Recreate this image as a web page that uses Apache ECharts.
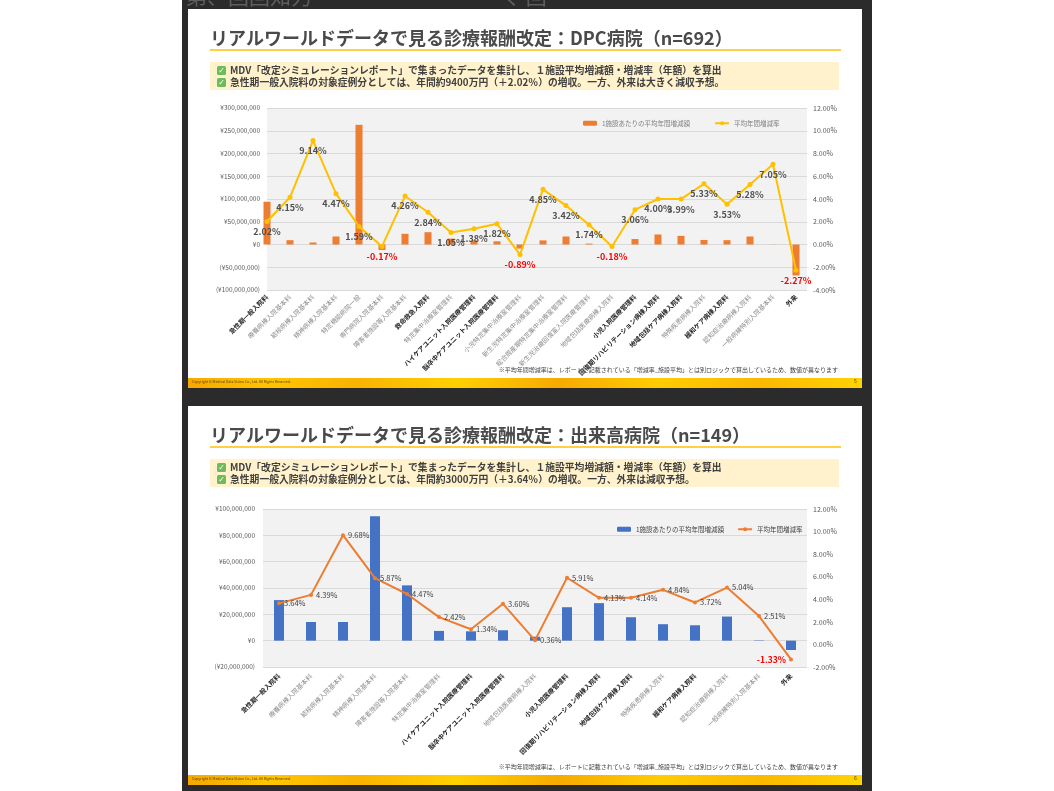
<!DOCTYPE html>
<html>
<head>
<meta charset="utf-8">
<title>診療報酬改定</title>
<script src="https://cdn.jsdelivr.net/npm/echarts@6/dist/echarts.min.js"></script>
<style>
html,body{margin:0;padding:0;background:#fff;}
#main{width:1054px;height:791px;}
</style>
</head>
<body>
<div id="main"></div>
<script>
// DPC病院 (上のスライド)
var dpcCats = ['急性期一般入院料','療養病棟入院基本料','結核病棟入院基本料','精神病棟入院基本料','特定機能病院一般','専門病院入院基本料','障害者施設等入院基本料','救命救急入院料','特定集中治療室管理料','ハイケアユニット入院医療管理料','脳卒中ケアユニット入院医療管理料','小児特定集中治療室管理料','新生児特定集中治療室管理料','総合周産期特定集中治療室管理料','新生児治療回復室入院医療管理料','地域包括医療病棟入院料','小児入院医療管理料','回復期リハビリテーション病棟入院料','地域包括ケア病棟入院料','特殊疾患病棟入院料','緩和ケア病棟入院料','認知症治療病棟入院料','一般病棟特別入院基本料','外来'];
var dpcBold = ['急性期一般入院料','救命救急入院料','ハイケアユニット入院医療管理料','脳卒中ケアユニット入院医療管理料','小児入院医療管理料','回復期リハビリテーション病棟入院料','地域包括ケア病棟入院料','緩和ケア病棟入院料','外来'];
var dpcAmount = [94000000, 9500000, 4400000, 17600000, 263000000, -12000000, 23500000, 27000000, 13000000, 9000000, 7000000, -9000000, 9000000, 17600000, 2000000, 500000, 12000000, 22000000, 19000000, 10000000, 9500000, 17600000, 300000, -68000000];
var dpcRate = [2.02, 4.15, 9.14, 4.47, 1.59, -0.17, 4.26, 2.84, 1.05, 1.38, 1.82, -0.89, 4.85, 3.42, 1.74, -0.18, 3.06, 4.00, 3.99, 5.33, 3.53, 5.28, 7.05, -2.27];

// 出来高病院 (下のスライド)
var ffsCats = ['急性期一般入院料','療養病棟入院基本料','結核病棟入院基本料','精神病棟入院基本料','障害者施設等入院基本料','特定集中治療室管理料','ハイケアユニット入院医療管理料','脳卒中ケアユニット入院医療管理料','地域包括医療病棟入院料','小児入院医療管理料','回復期リハビリテーション病棟入院料','地域包括ケア病棟入院料','特殊疾患病棟入院料','緩和ケア病棟入院料','認知症治療病棟入院料','一般病棟特別入院基本料','外来'];
var ffsBold = ['急性期一般入院料','ハイケアユニット入院医療管理料','脳卒中ケアユニット入院医療管理料','小児入院医療管理料','回復期リハビリテーション病棟入院料','地域包括ケア病棟入院料','緩和ケア病棟入院料','外来'];
var ffsAmount = [30800000, 14200000, 14200000, 94400000, 42000000, 7400000, 7100000, 7900000, 3000000, 25400000, 28500000, 17800000, 12500000, 11700000, 18300000, 300000, -7100000];
var ffsRate = [3.64, 4.39, 9.68, 5.87, 4.47, 2.42, 1.34, 3.60, 0.36, 5.91, 4.13, 4.14, 4.84, 3.72, 5.04, 2.51, -1.33];

var slides = [
  {y: 9, page: '5',
   title: 'リアルワールドデータで見る診療報酬改定：DPC病院（n=692）',
   line1: 'MDV「改定シミュレーションレポート」で集まったデータを集計し、１施設平均増減額・増減率（年額）を算出',
   line2: '急性期一般入院料の対象症例分としては、年間約9400万円（＋2.02％）の増収。一方、外来は大きく減収予想。'},
  {y: 406, page: '6',
   title: 'リアルワールドデータで見る診療報酬改定：出来高病院（n=149）',
   line1: 'MDV「改定シミュレーションレポート」で集まったデータを集計し、１施設平均増減額・増減率（年額）を算出',
   line2: '急性期一般入院料の対象症例分としては、年間約3000万円（＋3.64％）の増収。一方、外来は減収予想。'}
];
var note = '※平均年間増減率は、レポートに記載されている「増減率_施設平均」とは別ロジックで算出しているため、数値が異なります';

var FONT = "'Noto Sans CJK JP', 'Noto Sans', sans-serif";
var BAR_NAME = '1施設あたりの平均年間増減額';
var LINE_NAME = '平均年間増減率';

function yen(v) {
  var s = '¥' + Math.abs(v).toLocaleString('en-US');
  return v < 0 ? '(' + s + ')' : s;
}
function pct(v) { return v.toFixed(2) + '%'; }
function catLabel(name, boldList) {
  return (boldList.indexOf(name) >= 0 ? '{b|' : '{g|') + name + '}';
}
var richCats = {
  b: {fontSize: 6.5, fontWeight: 'bold', color: '#262626', fontFamily: FONT},
  g: {fontSize: 6.5, color: '#8c8c8c', fontFamily: FONT}
};

// slide decoration
var graphics = [
  {type: 'rect', z: -20, shape: {x: 182, y: 0, width: 690, height: 791}, style: {fill: '#2b2b2b'}},
  {type: 'text', z: -15, x: 186, y: -14, style: {text: '第、回回知力', fontSize: 21, fill: '#5e5e5e', fontFamily: FONT}},
  {type: 'text', z: -15, x: 500, y: -14, style: {text: 'く 回', fontSize: 21, fill: '#5e5e5e', fontFamily: FONT}}
];
slides.forEach(function (s) {
  var y0 = s.y;
  graphics.push(
    {type: 'rect', z: -10, shape: {x: 188, y: y0, width: 674, height: 369}, style: {fill: '#ffffff'}},
    {type: 'rect', z: -10, shape: {x: 188, y: y0 + 369, width: 674, height: 10}, style: {
      fill: {type: 'linear', x: 0, y: 0, x2: 1, y2: 0, colorStops: [
        {offset: 0, color: '#f6a800'}, {offset: 0.12, color: '#ffc400'}, {offset: 0.25, color: '#f9b300'},
        {offset: 0.4, color: '#ffd000'}, {offset: 0.55, color: '#f7aa00'}, {offset: 0.7, color: '#ffcc00'},
        {offset: 0.85, color: '#fbb800'}, {offset: 1, color: '#ffd400'}]}}},
    {type: 'text', z: 50, x: 192, y: y0 + 371, style: {text: 'Copyright © Medical Data Vision Co., Ltd. All Rights Reserved.', fontSize: 3.5, fill: '#5a4000', fontFamily: FONT}},
    {type: 'text', z: 50, x: 854, y: y0 + 370, style: {text: s.page, fontSize: 5, fill: '#5a4000', fontFamily: FONT}},
    {type: 'text', z: 50, x: 210, y: y0 + 29, style: {text: s.title, fontSize: 18, fontWeight: 'bold', fill: '#4a4a4a', fontFamily: FONT, verticalAlign: 'middle'}},
    {type: 'line', z: 50, shape: {x1: 210, y1: y0 + 41, x2: 841, y2: y0 + 41}, style: {stroke: '#ffc000', lineWidth: 1.5}},
    {type: 'rect', z: -5, shape: {x: 210, y: y0 + 53, width: 629, height: 28}, style: {fill: '#fff2cc'}},
    {type: 'rect', z: 50, shape: {x: 217, y: y0 + 57, width: 9, height: 9, r: 1.5}, style: {fill: '#6dbb5b'}},
    {type: 'text', z: 51, x: 221.5, y: y0 + 61.5, style: {text: '✓', fontSize: 8, fontWeight: 'bold', fill: '#ffffff', fontFamily: 'DejaVu Sans', align: 'center', verticalAlign: 'middle'}},
    {type: 'rect', z: 50, shape: {x: 217, y: y0 + 69, width: 9, height: 9, r: 1.5}, style: {fill: '#6dbb5b'}},
    {type: 'text', z: 51, x: 221.5, y: y0 + 73.5, style: {text: '✓', fontSize: 8, fontWeight: 'bold', fill: '#ffffff', fontFamily: 'DejaVu Sans', align: 'center', verticalAlign: 'middle'}},
    {type: 'text', z: 50, x: 230, y: y0 + 61.5, style: {text: s.line1, fontSize: 9.8, fontWeight: 'bold', fill: '#404040', fontFamily: FONT, verticalAlign: 'middle'}},
    {type: 'text', z: 50, x: 230, y: y0 + 73.5, style: {text: s.line2, fontSize: 9.8, fontWeight: 'bold', fill: '#404040', fontFamily: FONT, verticalAlign: 'middle'}},
    {type: 'text', z: 50, x: 838, y: y0 + 361, style: {text: note, fontSize: 6, fill: '#404040', fontFamily: FONT, align: 'right', verticalAlign: 'middle'}}
  );
});

var topLineData = dpcRate.map(function (v, i) {
  return {value: [i, v], label: {color: v < 0 ? '#ff0000' : '#505050'}};
});
var botLineData = ffsRate.map(function (v, i) {
  return v < 0
    ? {value: v, label: {position: 'left', color: '#ff0000', fontWeight: 'bold', fontSize: 8.5}}
    : {value: v};
});

var option = {
  animation: false,
  backgroundColor: '#ffffff',
  textStyle: {fontFamily: FONT},
  graphic: graphics,
  legend: [
    {left: 578, top: 115, itemWidth: 14, itemHeight: 5, itemGap: 24,
     data: [BAR_NAME, LINE_NAME],
     textStyle: {fontSize: 6.5, color: '#7f7f7f', fontFamily: FONT}},
    {left: 612, top: 521, itemWidth: 14, itemHeight: 5, itemGap: 13,
     data: [BAR_NAME + '#2', LINE_NAME + '#2'],
     formatter: function (n) { return n.replace('#2', ''); },
     textStyle: {fontSize: 6.5, color: '#404040', fontFamily: FONT}}
  ],
  grid: [
    {left: 267, top: 108, width: 540, height: 182, show: true, backgroundColor: '#f2f2f2', borderWidth: 0},
    {left: 263, top: 509, width: 544, height: 158, show: true, backgroundColor: '#f2f2f2', borderWidth: 0}
  ],
  xAxis: [
    {type: 'value', gridIndex: 0, min: 0, max: 540 / 23, interval: 1,
     splitLine: {show: false}, axisLine: {show: false}, axisTick: {show: false},
     axisLabel: {rotate: 45, margin: 6, rich: richCats,
       formatter: function (v) {
         var i = Math.round(v);
         if (Math.abs(v - i) > 1e-6 || i < 0 || i >= dpcCats.length) return '';
         return catLabel(dpcCats[i], dpcBold);
       }}},
    {type: 'category', gridIndex: 1, data: ffsCats, boundaryGap: true,
     axisLine: {show: false}, axisTick: {show: false},
     axisLabel: {rotate: 45, interval: 0, margin: 8, rich: richCats,
       formatter: function (v) { return catLabel(v, ffsBold); }}}
  ],
  yAxis: [
    {type: 'value', gridIndex: 0, position: 'left', min: -100000000, max: 300000000, interval: 50000000,
     axisLine: {show: false}, axisTick: {show: false},
     splitLine: {lineStyle: {color: '#d9d9d9', width: 1}},
     axisLabel: {formatter: yen, fontSize: 6.5, color: '#595959', margin: 7}},
    {type: 'value', gridIndex: 0, position: 'right', min: -4, max: 12, interval: 2,
     axisLine: {show: false}, axisTick: {show: false}, splitLine: {show: false},
     axisLabel: {formatter: pct, fontSize: 7, color: '#595959', margin: 6}},
    {type: 'value', gridIndex: 1, position: 'left', min: -20000000, max: 100000000, interval: 20000000,
     axisLine: {show: false}, axisTick: {show: false},
     splitLine: {lineStyle: {color: '#d9d9d9', width: 1}},
     axisLabel: {formatter: yen, fontSize: 6.5, color: '#595959', margin: 8}},
    {type: 'value', gridIndex: 1, position: 'right', min: -2, max: 12, interval: 2,
     axisLine: {show: false}, axisTick: {show: false}, splitLine: {show: false},
     axisLabel: {formatter: pct, fontSize: 7, color: '#595959', margin: 6}}
  ],
  series: [
    {name: BAR_NAME, type: 'bar', xAxisIndex: 0, yAxisIndex: 0, barWidth: 7,
     itemStyle: {color: '#ed7d31'},
     data: dpcAmount.map(function (v, i) { return [i, v]; })},
    {name: LINE_NAME, type: 'line', xAxisIndex: 0, yAxisIndex: 1,
     symbol: 'circle', symbolSize: 5,
     lineStyle: {color: '#ffc000', width: 2}, itemStyle: {color: '#ffc000'},
     label: {show: true, position: 'bottom', distance: 3, fontSize: 9, fontWeight: 'bold', fontFamily: FONT,
       formatter: function (p) { return pct(p.value[1]); }},
     data: topLineData},
    {name: BAR_NAME + '#2', type: 'bar', xAxisIndex: 1, yAxisIndex: 2, barWidth: 10,
     itemStyle: {color: '#4472c4'},
     data: ffsAmount},
    {name: LINE_NAME + '#2', type: 'line', xAxisIndex: 1, yAxisIndex: 3,
     symbol: 'circle', symbolSize: 4,
     lineStyle: {color: '#ed7d31', width: 2}, itemStyle: {color: '#ed7d31'},
     label: {show: true, position: 'right', distance: 3, fontSize: 7.5, color: '#404040', fontFamily: FONT,
       formatter: function (p) { return pct(p.value); }},
     data: botLineData}
  ]
};

var chart = echarts.init(document.getElementById('main'));
chart.setOption(option);
</script>
</body>
</html>
